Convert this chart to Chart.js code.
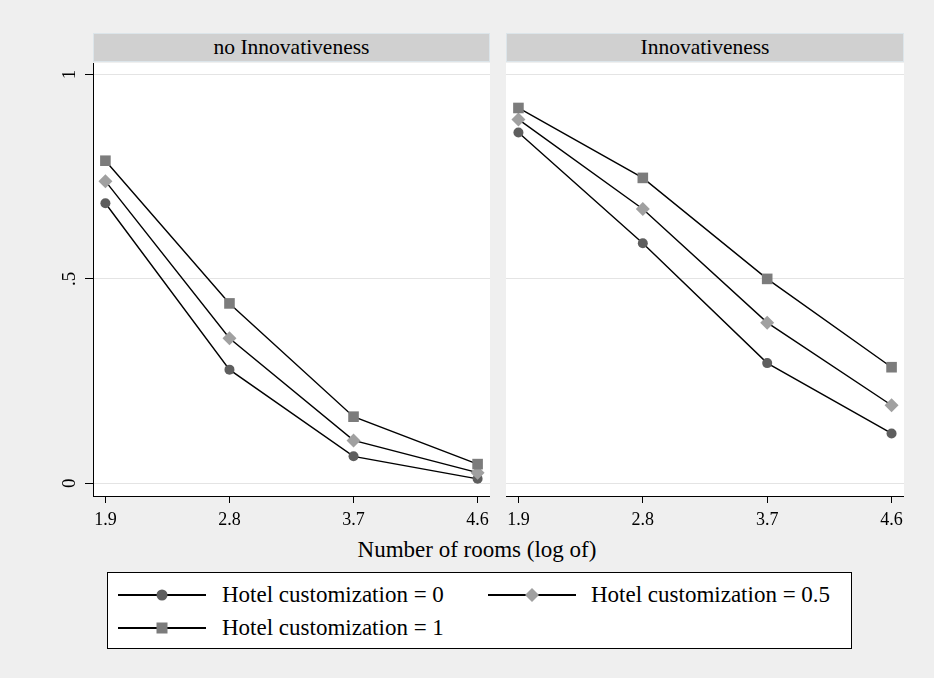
<!DOCTYPE html>
<html>
<head>
<meta charset="utf-8">
<script src="https://cdn.jsdelivr.net/npm/chart.js@4"></script>
<style>
  body { margin: 0; background: #efefef; width: 934px; height: 678px; position: relative; overflow: hidden;
         font-family: "Liberation Serif", "Times New Roman", serif; color: #000; }
  canvas { position: absolute; }
  .strip { position: absolute; top: 33px; height: 29px; background: #d0d0d0; border: 1px solid #dce5ea;
           box-sizing: border-box; text-align: center; font-size: 21.5px; line-height: 27px; }
  #xtitle { position: absolute; left: 277px; width: 400px; top: 535px; height: 30px; line-height: 30px;
            text-align: center; font-size: 23px; }
  #legend { position: absolute; left: 107px; top: 572px; width: 745px; height: 77px; background: #fff;
            border: 1px solid #000; box-sizing: border-box; }
  .sym { position: absolute; }
  .lab { position: absolute; font-size: 23px; height: 26px; line-height: 26px; white-space: nowrap; }
</style>
</head>
<body>
<div class="strip" style="left:93px;width:397px;">no Innovativeness</div>
<div class="strip" style="left:506px;width:398px;">Innovativeness</div>
<canvas id="left" width="460" height="469" style="left:30px;top:63px;"></canvas>
<canvas id="right" width="398" height="469" style="left:506px;top:63px;"></canvas>
<div id="xtitle">Number of rooms (log of)</div>
<div id="legend"></div>
<script>
// x positions (log of number of rooms)
const xTicks = [1.9, 2.8, 3.7, 4.6];
const yTicks = [0, 0.5, 1];
const yTickLabels = ['0', '.5', '1'];

const seriesNames = ['Hotel customization = 0', 'Hotel customization = 0.5', 'Hotel customization = 1'];

// panel: no Innovativeness
const noInnov0 = [0.685, 0.278, 0.066, 0.011];
const noInnov05 = [0.739, 0.355, 0.105, 0.026];
const noInnov1 = [0.789, 0.440, 0.163, 0.047];

// panel: Innovativeness
const innov0 = [0.858, 0.587, 0.294, 0.122];
const innov05 = [0.890, 0.671, 0.393, 0.191];
const innov1 = [0.918, 0.747, 0.500, 0.284];

const markers = [
  { style: 'circle', color: '#5e5e5e', radius: 5 },
  { style: 'rectRot', color: '#a0a0a0', radius: 7 },
  { style: 'rect', color: '#7c7c7c', radius: 7.5 }
];

const serif = '"Liberation Serif", "Times New Roman", serif';

function makeDatasets(series) {
  return series.map((vals, i) => ({
    label: seriesNames[i],
    data: vals.map((v, j) => ({ x: xTicks[j], y: v })),
    borderColor: '#000',
    borderWidth: 1.4,
    pointStyle: markers[i].style,
    pointRadius: markers[i].radius,
    pointBackgroundColor: markers[i].color,
    pointBorderColor: markers[i].color,
    pointBorderWidth: 0,
    tension: 0,
    fill: false,
    clip: false
  })).reverse();
}

// white plot region
const plotBg = {
  id: 'plotBg',
  beforeDraw(chart) {
    const a = chart.chartArea;
    const c = chart.ctx;
    c.save();
    c.fillStyle = '#fff';
    c.fillRect(a.left, a.top, a.right - a.left, a.bottom - a.top);
    c.restore();
  }
};

// rotated y tick labels like the original
const yLabels = {
  id: 'yLabels',
  afterDraw(chart) {
    if (!chart.options.showYLabels) return;
    const s = chart.scales.y;
    const c = chart.ctx;
    c.save();
    c.font = '19px ' + serif;
    c.fillStyle = '#000';
    c.textAlign = 'center';
    c.textBaseline = 'middle';
    yTicks.forEach((t, i) => {
      c.save();
      c.translate(s.right - 23, s.getPixelForValue(t));
      c.rotate(-Math.PI / 2);
      c.fillText(yTickLabels[i], 0, 0);
      c.restore();
    });
    c.restore();
  }
};

function makeChart(id, series, withAxis) {
  return new Chart(document.getElementById(id), {
    type: 'line',
    data: { datasets: makeDatasets(series) },
    options: {
      responsive: false,
      animation: false,
      showYLabels: withAxis,
      layout: { padding: 0, autoPadding: false },
      plugins: { legend: { display: false }, tooltip: { enabled: false } },
      scales: {
        x: {
          type: 'linear',
          min: 1.81,
          max: 4.69,
          afterBuildTicks: s => { s.ticks = xTicks.map(v => ({ value: v })); },
          afterFit: s => { s.height = 36; s.paddingLeft = 0; s.paddingRight = 0; },
          ticks: { color: '#000', font: { family: serif, size: 18 }, padding: 6,
                   callback: v => v.toFixed(1) },
          grid: { drawOnChartArea: false, tickLength: 7, tickColor: '#000' },
          border: { color: '#000', width: 1 }
        },
        y: {
          min: -0.031,
          max: 1.028,
          afterBuildTicks: s => { s.ticks = yTicks.map(v => ({ value: v })); },
          afterFit: s => { s.width = withAxis ? 63 : 0; s.paddingTop = 0; s.paddingBottom = 0; },
          ticks: { display: false },
          grid: { color: '#e4e4e4', lineWidth: 1, drawTicks: withAxis, tickLength: 8, tickColor: '#000' },
          border: { display: withAxis, color: '#000', width: 1 }
        }
      }
    },
    plugins: [plotBg, yLabels]
  });
}

makeChart('left', [noInnov0, noInnov05, noInnov1], true);
makeChart('right', [innov0, innov05, innov1], false);

// legend
function symbolSvg(i) {
  const m = markers[i];
  let shape;
  if (m.style === 'circle') shape = '<circle cx="44" cy="8" r="5.5" fill="' + m.color + '"/>';
  else if (m.style === 'rectRot') shape = '<polygon points="44,1 51,8 44,15 37,8" fill="' + m.color + '"/>';
  else shape = '<rect x="38.5" y="2.5" width="11" height="11" fill="' + m.color + '"/>';
  return '<svg width="88" height="16"><line x1="0" y1="8" x2="88" y2="8" stroke="#000" stroke-width="2"/>' + shape + '</svg>';
}
const legendPos = [
  { sx: 10, tx: 114, y: 23 },
  { sx: 380, tx: 483, y: 23 },
  { sx: 10, tx: 114, y: 55.5 }
];
const legend = document.getElementById('legend');
legendPos.forEach((p, i) => {
  const s = document.createElement('div');
  s.className = 'sym';
  s.style.left = p.sx + 'px';
  s.style.top = (p.y - 9) + 'px';
  s.innerHTML = symbolSvg(i);
  legend.appendChild(s);
  const t = document.createElement('div');
  t.className = 'lab';
  t.style.left = p.tx + 'px';
  t.style.top = (p.y - 14) + 'px';
  t.textContent = seriesNames[i];
  legend.appendChild(t);
});
</script>
</body>
</html>
